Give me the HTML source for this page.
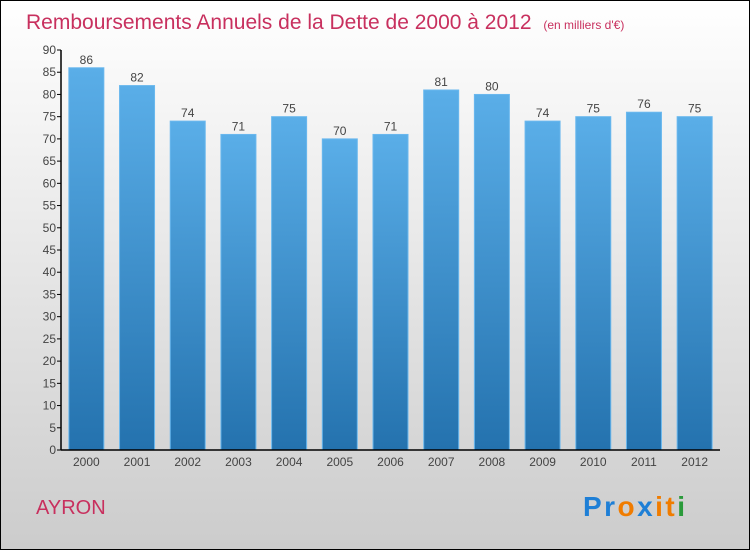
<!DOCTYPE html>
<html><head><meta charset="utf-8"><style>
body{margin:0;width:750px;height:550px;overflow:hidden;font-family:"Liberation Sans",sans-serif}
</style></head><body>
<svg width="750" height="550" xmlns="http://www.w3.org/2000/svg">
<defs>
<linearGradient id="bg" x1="0" y1="0" x2="0" y2="1"><stop offset="0" stop-color="#ffffff"/><stop offset="1" stop-color="#cccccc"/></linearGradient>
<linearGradient id="bar" x1="0" y1="0" x2="0" y2="1"><stop offset="0" stop-color="#5aaee8"/><stop offset="1" stop-color="#2472ae"/></linearGradient>
</defs>
<rect x="0.5" y="0.5" width="749" height="549" fill="url(#bg)" stroke="#000"/>
<text x="26" y="29" font-size="21" fill="#c8305e">Remboursements Annuels de la Dette de 2000 à 2012 <tspan font-size="12" dx="6">(en milliers d'€)</tspan></text>
<g id="plot"></g>
<text x="36" y="514" font-size="20" fill="#c8305e">AYRON</text>
<text x="583" y="516" font-size="28" font-weight="bold" textLength="102" lengthAdjust="spacing"><tspan fill="#1e7fd6">Pr</tspan><tspan fill="#f07c00">o</tspan><tspan fill="#1e7fd6">x</tspan><tspan fill="#f07c00">it</tspan><tspan fill="#2a9a3a">i</tspan></text>
</svg>
<script>
const categories=["2000","2001","2002","2003","2004","2005","2006","2007","2008","2009","2010","2011","2012"];
const values=[86,82,74,71,75,70,71,81,80,74,75,76,75];
const yTicks=[0,5,10,15,20,25,30,35,40,45,50,55,60,65,70,75,80,85,90];
const NS="http://www.w3.org/2000/svg";
const g=document.getElementById("plot");
const x0=61,x1=720,y0=450,y1=50,yMax=90;
const band=(x1-x0)/categories.length;
const y=v=>y0-(v/yMax)*(y0-y1);
const xc=i=>x0+band*(i+0.5);
function mk(t,a){const e=document.createElementNS(NS,t);for(const k in a)e.setAttribute(k,a[k]);g.appendChild(e);return e;}
values.forEach((v,i)=>{
 const r=mk("rect",{x:xc(i)-17.5,y:y(v),width:35,height:y0-y(v),fill:"url(#bar)",stroke:"#6ab8ee","stroke-width":1});
 
 
 const t=mk("text",{x:xc(i),y:y(v)-4,"text-anchor":"middle","font-size":12,fill:"#444"});
 t.textContent=v;
 
 
 const c=mk("text",{x:xc(i),y:y0+16,"text-anchor":"middle","font-size":12,fill:"#444"});
 c.textContent=categories[i];
 
 
});
yTicks.forEach(v=>{
 const l=mk("line",{x1:x0-4,x2:x0,y1:y(v),y2:y(v),stroke:"#000"});
 
 
 const t=mk("text",{x:x0-5,y:y(v)+4,"text-anchor":"end","font-size":12,fill:"#444"});
 t.textContent=v;
 
 
});
const ya=mk("line",{x1:x0,x2:x0,y1:y1,y2:y0,stroke:"#000","stroke-width":1.5});


const xa=mk("line",{x1:x0,x2:x1,y1:y0,y2:y0,stroke:"#000","stroke-width":1.5});


</script>
</body></html>
